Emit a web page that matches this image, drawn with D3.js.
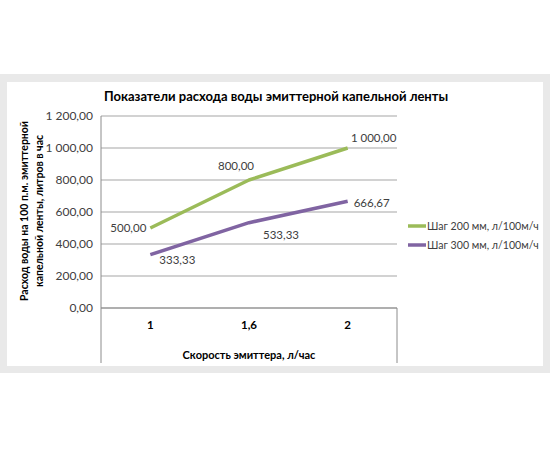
<!DOCTYPE html>
<html><head><meta charset="utf-8">
<script src="https://cdn.jsdelivr.net/npm/d3@7"></script>
<style>body{margin:0;background:#fff;}svg{display:block;font-family:Lato,"DejaVu Sans",sans-serif;}</style>
</head><body>
<svg id="c" width="550" height="450"></svg>
<script>
const categories = ["1", "1,6", "2"];
const seriesNames = ["Шаг 200 мм, л/100м/ч", "Шаг 300 мм, л/100м/ч"];
const step200 = [500, 800, 1000];
const step300 = [333.33, 533.33, 666.67];
const yTicks = [0, 200, 400, 600, 800, 1000, 1200];
const colors = ["#9bbb59", "#8064a2"];

const svg = d3.select("#c");
const fmt = v => {
  const s = v.toFixed(2).replace(".", ",");
  const [i, d] = s.split(",");
  return i.replace(/\B(?=(\d{3})+(?!\d))/g, "\u00a0") + "," + d;
};

// frame
svg.append("rect").attr("x", 0).attr("y", 74).attr("width", 550).attr("height", 299).attr("fill", "#e9e9e9");
svg.append("rect").attr("x", 7).attr("y", 82).attr("width", 536).attr("height", 284).attr("fill", "#fff");

const L = 101, R = 397, T = 116, B = 308;
const x = d3.scaleBand().domain(categories).range([L, R]);
const y = d3.scaleLinear().domain([0, 1200]).range([B, T]);

// gridlines
svg.append("g").selectAll("line").data(yTicks).join("line")
  .attr("x1", L).attr("x2", R).attr("y1", d => y(d)).attr("y2", d => y(d))
  .attr("stroke", "#a6a6a6").attr("stroke-width", 1.2);

// y axis
const yAxis = d3.axisLeft(y).tickValues(yTicks).tickSize(0).tickPadding(8).tickFormat(fmt);
const ga = svg.append("g").attr("transform", `translate(${L},0)`).call(yAxis);
ga.select(".domain").remove();
ga.selectAll("text").attr("font-size", 12).attr("fill", "#404040").attr("font-family", "Lato, sans-serif");
svg.append("line").attr("x1", L).attr("x2", L).attr("y1", T).attr("y2", 363).attr("stroke", "#8c8c8c");
svg.append("line").attr("x1", R).attr("x2", R).attr("y1", B).attr("y2", 363).attr("stroke", "#8c8c8c");
svg.append("line").attr("x1", L).attr("x2", R).attr("y1", B).attr("y2", B).attr("stroke", "#8c8c8c");

// x axis labels
const xAxis = d3.axisBottom(x).tickSize(0).tickPadding(13);
const gx = svg.append("g").attr("transform", `translate(0,${B})`).call(xAxis);
gx.select(".domain").remove();
gx.selectAll("text").attr("font-size", 11.5).attr("font-weight", "bold").attr("fill", "#000").attr("font-family", "Lato, sans-serif");

// titles
svg.append("text").attr("x", 276).attr("y", 101).attr("text-anchor", "middle")
  .attr("font-size", 13).attr("font-weight", "bold").attr("fill", "#000")
  .text("Показатели расхода воды эмиттерной капельной ленты");
svg.append("text").attr("x", 249).attr("y", 359).attr("text-anchor", "middle")
  .attr("font-size", 11).attr("font-weight", "bold").attr("fill", "#000")
  .text("Скорость эмиттера, л/час");
const yt = svg.append("text").attr("transform", "translate(0,211) rotate(-90)")
  .attr("text-anchor", "middle").attr("font-size", 10.5).attr("font-weight", "bold").attr("fill", "#000");
yt.append("tspan").attr("x", 0).attr("y", 28).text("Расход воды на 100 п.м. эмиттерной");
yt.append("tspan").attr("x", 0).attr("y", 43).text("капельной ленты, литров в час");

// lines
const series = [step200, step300];
const line = d3.line().x((d, i) => x(categories[i]) + x.bandwidth() / 2).y(d => y(d));
series.forEach((s, k) => {
  svg.append("path").datum(s).attr("d", line).attr("fill", "none")
    .attr("stroke", colors[k]).attr("stroke-width", 3.5).attr("stroke-linejoin", "round");
});

// data labels
const offs = [
  [[-22, 4], [-13, -10], [26, -6]],
  [[27, 9], [32, 16], [24, 6]]
];
series.forEach((s, k) => {
  svg.append("g").selectAll("text").data(s).join("text")
    .attr("x", (d, i) => x(categories[i]) + x.bandwidth() / 2 + offs[k][i][0])
    .attr("y", (d, i) => y(d) + offs[k][i][1])
    .attr("text-anchor", "middle").attr("font-size", 11.5).attr("fill", "#404040")
    .text(d => fmt(d));
});

// legend
const lg = svg.append("g").selectAll("g").data(seriesNames).join("g")
  .attr("transform", (d, i) => `translate(408,${226 + i * 19})`);
lg.append("line").attr("x1", 0).attr("x2", 18).attr("y1", 0).attr("y2", 0)
  .attr("stroke", (d, i) => colors[i]).attr("stroke-width", 3.5);
lg.append("text").attr("x", 19).attr("y", 4).attr("font-size", 10.6).attr("fill", "#404040").text(d => d);
</script>
</body></html>
